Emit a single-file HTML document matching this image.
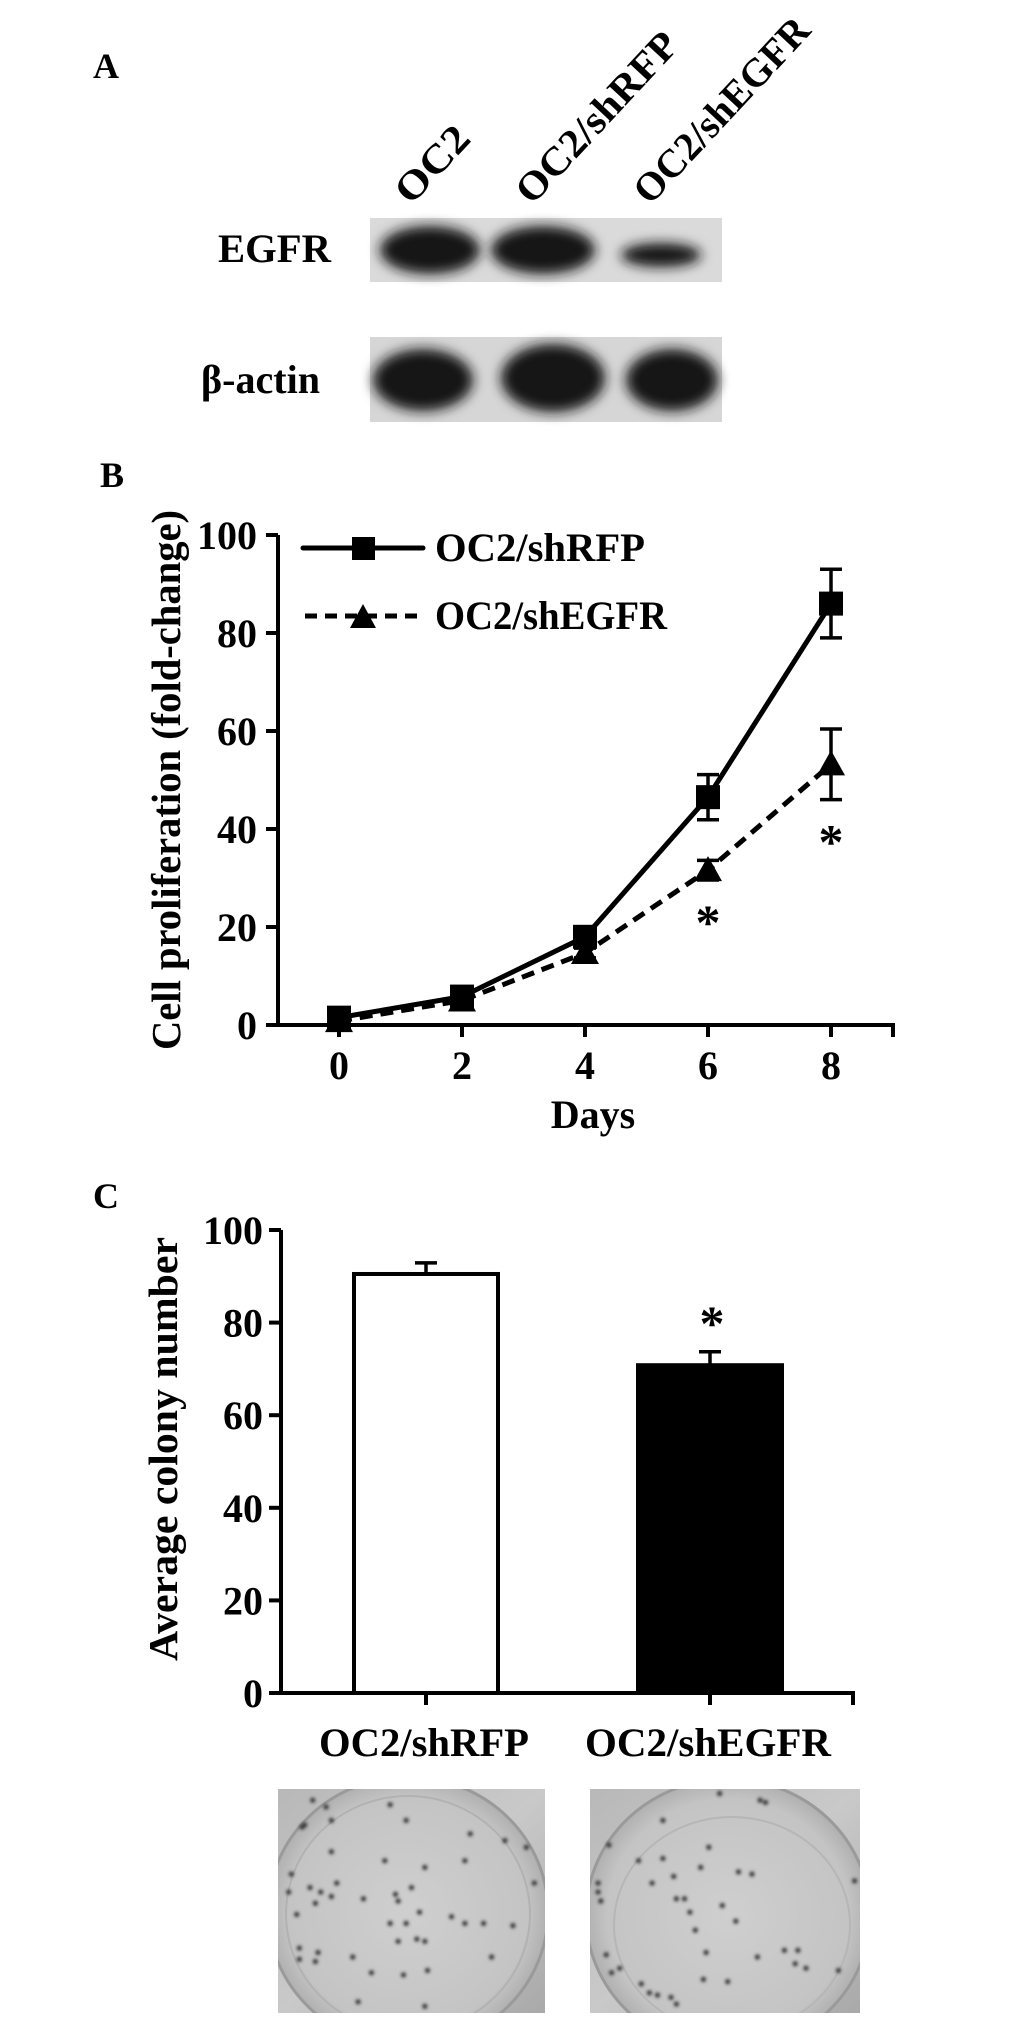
<!DOCTYPE html>
<html><head><meta charset="utf-8"><title>EGFR knockdown figure</title>
<style>
html,body{margin:0;padding:0;background:#fff;}
svg{display:block;}
text{font-family:"Liberation Serif",serif;font-weight:bold;fill:#000;}
</style></head>
<body>
<svg id="fig" width="1033" height="2038" viewBox="0 0 1033 2038" xmlns="http://www.w3.org/2000/svg">
<defs>
  <filter id="blur6" x="-30%" y="-50%" width="160%" height="200%"><feGaussianBlur stdDeviation="6"/></filter>
  <filter id="blur2"><feGaussianBlur stdDeviation="1.6"/></filter>
  <linearGradient id="plateL" x1="0" y1="0" x2="1" y2="1">
    <stop offset="0" stop-color="#b8b8b8"/><stop offset="0.5" stop-color="#c9c9c9"/><stop offset="1" stop-color="#a9a9a9"/>
  </linearGradient>
  <radialGradient id="dish" cx="0.5" cy="0.5" r="0.5">
    <stop offset="0" stop-color="#cfcfcf"/><stop offset="0.85" stop-color="#c4c4c4"/><stop offset="1" stop-color="#b0b0b0"/>
  </radialGradient>
  <clipPath id="clipL"><rect x="278" y="1789" width="267" height="224"/></clipPath>
  <clipPath id="clipR"><rect x="590" y="1789" width="270" height="224"/></clipPath>
</defs>

<!-- Panel A -->
<g>
  <text x="93" y="78" font-size="36">A</text>
  <text transform="translate(411,206) rotate(-47)" font-size="40" textLength="90" lengthAdjust="spacingAndGlyphs">OC2</text>
  <text transform="translate(532,206) rotate(-47)" font-size="40" textLength="218" lengthAdjust="spacingAndGlyphs">OC2/shRFP</text>
  <text transform="translate(650,206) rotate(-47)" font-size="40" textLength="238" lengthAdjust="spacingAndGlyphs">OC2/shEGFR</text>
  <text x="218" y="262" font-size="40" textLength="113" lengthAdjust="spacingAndGlyphs">EGFR</text>
  <text x="201" y="393" font-size="40" textLength="119" lengthAdjust="spacingAndGlyphs">β-actin</text>
  <g>
    <rect x="370" y="218" width="352" height="64" fill="#dadada"/>
    <g filter="url(#blur6)" fill="#141414">
      <ellipse cx="430" cy="250" rx="50" ry="24"/>
      <ellipse cx="543" cy="250" rx="52" ry="24"/>
      <ellipse cx="661" cy="255" rx="40" ry="12"/>
    </g>
  </g>
  <g>
    <rect x="370" y="337" width="352" height="85" fill="#d6d6d6"/>
    <g filter="url(#blur6)" fill="#141414">
      <ellipse cx="423" cy="380" rx="50" ry="31"/>
      <ellipse cx="553" cy="378" rx="52" ry="34"/>
      <ellipse cx="672" cy="380" rx="46" ry="31"/>
    </g>
  </g>
</g>

<!-- Panel B -->
<g id="panelB">
  <text x="100" y="487" font-size="36">B</text>
  <text transform="translate(180,780) rotate(-90)" text-anchor="middle" font-size="41" textLength="540" lengthAdjust="spacingAndGlyphs">Cell proliferation (fold-change)</text>
  <text x="593" y="1128" text-anchor="middle" font-size="40">Days</text>
  <g>
    <g>
      <line x1="303" y1="548" x2="423" y2="548" stroke="#000" stroke-width="5" stroke-linecap="round"/>
      <rect x="352" y="537" width="23" height="23" fill="#000"/>
      <text x="435" y="561" font-size="40" textLength="210" lengthAdjust="spacingAndGlyphs">OC2/shRFP</text>
    </g>
    <g>
      <line x1="305" y1="616" x2="423" y2="616" stroke="#000" stroke-width="5" stroke-dasharray="12,8"/>
      <polygon points="363,604 376,628 350,628" fill="#000"/>
      <text x="435" y="629" font-size="40" textLength="232" lengthAdjust="spacingAndGlyphs">OC2/shEGFR</text>
    </g>
  </g>
</g>

<!-- Panel C -->
<g id="panelC">
  <text x="93" y="1208" font-size="36">C</text>
  <text transform="translate(177,1449) rotate(-90)" text-anchor="middle" font-size="41" textLength="424" lengthAdjust="spacingAndGlyphs">Average colony  number</text>
</g>

<!-- Plate photos -->
<g id="photoL" clip-path="url(#clipL)">
  <rect x="278" y="1789" width="267" height="224" fill="url(#plateL)"/>
  <ellipse cx="408" cy="1912" rx="140" ry="135" fill="url(#dish)" stroke="#9a9a9a" stroke-width="3"/>
  <ellipse cx="408" cy="1914" rx="122" ry="118" fill="none" stroke="#b2b2b2" stroke-width="2"/>
</g>
<g id="photoR" clip-path="url(#clipR)">
  <rect x="590" y="1789" width="270" height="224" fill="url(#plateL)"/>
  <ellipse cx="728" cy="1915" rx="142" ry="136" fill="url(#dish)" stroke="#9a9a9a" stroke-width="3"/>
  <ellipse cx="732" cy="1925" rx="118" ry="108" fill="none" stroke="#b6b6b6" stroke-width="2"/>
</g>
</svg>

<script>
// ---------- Panel B data ----------
const days = [0, 2, 4, 6, 8];
const yTicksB = [0, 20, 40, 60, 80, 100];
const xTicksB = ["0", "2", "4", "6", "8"];
const shRFP = [1.5, 5.8, 18, 46.5, 86];
const shRFPErr = [0.5, 0.8, 1.2, 4.6, 7];
const shEGFR = [0.8, 5, 14.7, 31.6, 53.2];
const shEGFRErr = [0.4, 0.6, 1, 2, 7.2];
const sigPointsB = [6, 8];
const sigValuesB = [22, 38.5];

// ---------- Panel C data ----------
const groupsC = ["OC2/shRFP", "OC2/shEGFR"];
const colonyMeans = [90.5, 70.8];
const colonyErr = [2.4, 2.9];
const yTicksC = [0, 20, 40, 60, 80, 100];
const sigGroupsC = [1];

const NS = "http://www.w3.org/2000/svg";
function mk(tag, attrs, parent) {
  const e = document.createElementNS(NS, tag);
  for (const k in attrs) e.setAttribute(k, attrs[k]);
  parent.appendChild(e);
  return e;
}

// ----- Panel B -----
(function () {
  const g = document.getElementById("panelB");
  const x = d => 339 + (d - 0) * (831 - 339) / 8;
  const y = v => 1025 - v * (1025 - 535) / 100;
  const axis = mk("path", { d: `M278,${y(100)} V${y(0)} H893 v12`, fill: "none", stroke: "#000", "stroke-width": 4 }, g);
  
  
  yTicksB.forEach(t => {
    const l = mk("line", { x1: 266, x2: 278, y1: y(t), y2: y(t), stroke: "#000", "stroke-width": 4 }, g);
    
    
    const tx = mk("text", { x: 257, y: y(t) + 14, "text-anchor": "end", "font-size": 40 }, g);
    
    
    tx.textContent = String(t);
  });
  days.forEach((d, i) => {
    const l = mk("line", { x1: x(d), x2: x(d), y1: y(0), y2: y(0) + 12, stroke: "#000", "stroke-width": 4 }, g);
    
    
    const tx = mk("text", { x: x(d), y: 1079, "text-anchor": "middle", "font-size": 40 }, g);
    
    
    tx.textContent = xTicksB[i];
  });
  const pE = mk("polyline", { points: days.map((d, i) => x(d) + "," + y(shEGFR[i])).join(" "), fill: "none", stroke: "#000", "stroke-width": 5, "stroke-dasharray": "13,8" }, g);
  
  
  const pR = mk("polyline", { points: days.map((d, i) => x(d) + "," + y(shRFP[i])).join(" "), fill: "none", stroke: "#000", "stroke-width": 5 }, g);
  
  
  function err(d, v, e, name) {
    const cx = x(d);
    const p = mk("path", { d: `M${cx},${y(v + e)} V${y(v - e)} M${cx - 11},${y(v + e)} h22 M${cx - 11},${y(v - e)} h22`, stroke: "#000", "stroke-width": 3.5, fill: "none" }, g);
    
    
  }
  days.forEach((d, i) => { err(d, shRFP[i], shRFPErr[i], 'error-bar-shrfp'); err(d, shEGFR[i], shEGFRErr[i], 'error-bar-shegfr'); });
  days.forEach((d, i) => {
    const cx = x(d), cy = y(shEGFR[i]);
    const t = mk("polygon", { points: `${cx},${cy - 14} ${cx + 14},${cy + 11} ${cx - 14},${cy + 11}`, fill: "#000" }, g);
    
    
  });
  days.forEach((d, i) => {
    const cx = x(d), cy = y(shRFP[i]);
    const s = mk("rect", { x: cx - 12, y: cy - 12, width: 24, height: 24, fill: "#000" }, g);
    
    
  });
  sigPointsB.forEach((d, i) => {
    const a = mk("text", { x: x(d), y: y(sigValuesB[i]) + 22, "text-anchor": "middle", "font-size": 50, "font-weight": "normal" }, g);
    
    
    a.textContent = "*";
  });
})();

// ----- Panel C -----
(function () {
  const g = document.getElementById("panelC");
  const centers = [426, 710];
  const bw = 144;
  const y = v => 1693 - v * (1693 - 1230) / 100;
  yTicksC.forEach(t => {
    const l = mk("line", { x1: 269, x2: 281, y1: y(t), y2: y(t), stroke: "#000", "stroke-width": 4 }, g);
    
    
    const tx = mk("text", { x: 263, y: y(t) + 14, "text-anchor": "end", "font-size": 40 }, g);
    
    
    tx.textContent = String(t);
  });
  groupsC.forEach((name, i) => {
    const cx = centers[i];
    const e = mk("path", { d: `M${cx},${y(colonyMeans[i])} V${y(colonyMeans[i] + colonyErr[i])} M${cx - 11},${y(colonyMeans[i] + colonyErr[i])} h22`, stroke: "#000", "stroke-width": 3.5, fill: "none" }, g);
    
    
    const b = mk("rect", { x: cx - bw / 2, y: y(colonyMeans[i]), width: bw, height: y(0) - y(colonyMeans[i]), fill: i === 0 ? "#fff" : "#000", stroke: "#000", "stroke-width": 4 }, g);
    
    
    const tk = mk("line", { x1: cx, x2: cx, y1: y(0), y2: y(0) + 12, stroke: "#000", "stroke-width": 4 }, g);
    
    
    const lb = mk("text", { x: cx - 2, y: 1756, "text-anchor": "middle", "font-size": 40, textLength: i === 0 ? 210 : 246, lengthAdjust: "spacingAndGlyphs" }, g);
    
    
    lb.textContent = name;
  });
  sigGroupsC.forEach(i => {
    const a = mk("text", { x: centers[i] + 2, y: y(colonyMeans[i] + colonyErr[i]) - 12, "text-anchor": "middle", "font-size": 50, "font-weight": "normal" }, g);
    
    
    a.textContent = "*";
  });
  const axis = mk("path", { d: `M281,${y(100)} V${y(0)} H853 v12`, fill: "none", stroke: "#000", "stroke-width": 4 }, g);
  
  
})();

// ----- colony dots (decorative photo texture) -----
const dotsL = [[0.09,0.17],[0.1,0.16],[0.13,0.05],[0.18,0.08],[0.2,0.14],[0.42,0.07],[0.48,0.14],[0.72,0.2],[0.85,0.23],[0.93,0.26],[0.2,0.28],[0.4,0.32],[0.55,0.35],[0.7,0.32],[0.05,0.38],[0.12,0.44],[0.16,0.46],[0.2,0.48],[0.14,0.51],[0.22,0.42],[0.5,0.44],[0.45,0.5],[0.07,0.56],[0.04,0.46],[0.48,0.6],[0.53,0.55],[0.65,0.57],[0.7,0.6],[0.77,0.6],[0.88,0.61],[0.42,0.6],[0.45,0.68],[0.52,0.67],[0.55,0.68],[0.08,0.71],[0.08,0.76],[0.14,0.77],[0.15,0.73],[0.28,0.75],[0.35,0.82],[0.47,0.83],[0.56,0.81],[0.8,0.75],[0.96,0.42],[0.32,0.49],[0.44,0.47],[0.3,0.95],[0.55,0.97]];
const dotsR = [[0.48,0.02],[0.63,0.05],[0.65,0.06],[0.27,0.14],[0.07,0.25],[0.18,0.32],[0.27,0.31],[0.44,0.26],[0.41,0.35],[0.55,0.37],[0.6,0.38],[0.31,0.39],[0.23,0.42],[0.03,0.42],[0.03,0.46],[0.04,0.5],[0.32,0.49],[0.35,0.49],[0.49,0.52],[0.54,0.59],[0.39,0.63],[0.43,0.73],[0.06,0.74],[0.11,0.8],[0.19,0.87],[0.22,0.91],[0.25,0.92],[0.3,0.93],[0.32,0.96],[0.42,0.85],[0.51,0.86],[0.62,0.75],[0.72,0.72],[0.77,0.72],[0.8,0.8],[0.76,0.78],[0.92,0.81],[0.98,0.41],[0.08,0.82],[0.37,0.55]];
function drawDots(id, dots, x0, y0, w, h) {
  const g = document.getElementById(id);
  const sub = mk("g", { filter: "url(#blur2)" }, g);
  dots.forEach(p => {
    const c = mk("circle", { cx: x0 + p[0] * w, cy: y0 + p[1] * h, r: 2.6, fill: "#333" }, sub);
    
    
  });
}
drawDots("photoL", dotsL, 278, 1789, 267, 224);
drawDots("photoR", dotsR, 590, 1789, 270, 224);
</script>
</body></html>
